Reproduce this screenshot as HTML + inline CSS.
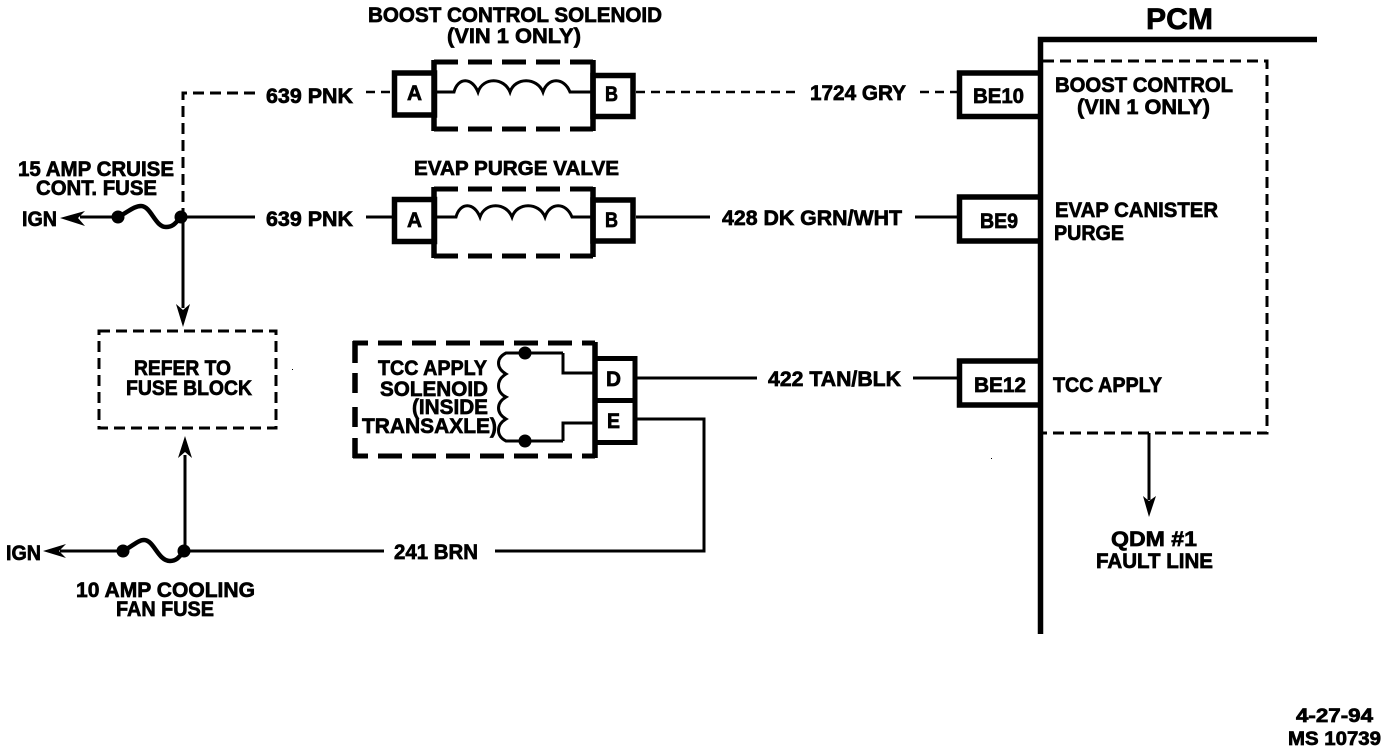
<!DOCTYPE html>
<html><head><meta charset="utf-8"><title>Wiring diagram</title>
<style>
html,body{margin:0;padding:0;background:#fff}
svg{display:block}
text{font-family:"Liberation Sans",sans-serif;font-weight:bold;fill:#000;stroke:#000;stroke-width:.7px;font-size:21.5px}
</style></head><body>
<svg width="1392" height="752" viewBox="0 0 1392 752" xmlns="http://www.w3.org/2000/svg">
<g fill="none" stroke="#000" stroke-linecap="butt">
<!-- PCM -->
<path d="M1040.5 634V39.5H1317" stroke-width="5.5"/>
<path d="M1043 61H1267V433H1043" stroke-width="3" stroke-dasharray="11 6"/>
<!-- PCM connector boxes -->
<path d="M1040 73H959.500V116.500H1040M1040 197H959.500V241H1040M1040 361H959.500V405H1040" stroke-width="5.500"/>
<!-- Dashed wires top -->
<path d="M255 93H183V215" stroke-width="3" stroke-dasharray="11 6"/>
<path d="M366 92H392M636 92H800M920 92H957" stroke-width="2.500" stroke-dasharray="9 6"/>
<!-- Solid wires -->
<path d="M181 217H255M366 217H392M636 217H710M915 217H957M636 378H757M913 378H957" stroke-width="3"/>
<path d="M635 419H704V551H495M384 551H185" stroke-width="3"/>
<path d="M183 217V308M185 551V455M1149 433V500M118 217H80M123 551H60" stroke-width="3"/>
<!-- Fuses -->
<path d="M118 217C128 212 134 206 141 206C151 206 155 227 166 227C174 227 176 222 181 217" stroke-width="4.500"/>
<path d="M123 551C133 546 138 540 144 540C154 540 158 561 170 561C177 561 180 556 184 551" stroke-width="4.500"/>
<!-- Refer box -->
<path d="M99 331H276V428H99Z" stroke-width="3" stroke-dasharray="11 6"/>
<!-- Boost solenoid -->
<path d="M434 60V117M593 60V131" stroke-width="5.500"/>
<path d="M434 62H593M434 129H593" stroke-width="5" stroke-dasharray="24 10"/>
<path d="M434 131V117" stroke-width="5.500"/>
<rect x="394.500" y="73" width="40" height="42" stroke-width="5.500"/>
<rect x="593" y="75.500" width="40" height="41" stroke-width="5.500"/>
<path d="M437 92H454C458 77 472 77 478 92C483 77 504 77 510 92C515 77 537 77 543 92C548 77 564 77 570 92H593" stroke-width="3"/>
<!-- EVAP valve -->
<path d="M434 187V243M593 187V257" stroke-width="5.500"/>
<path d="M434 189H593M434 256H593" stroke-width="5" stroke-dasharray="24 10"/>
<path d="M434 258V243" stroke-width="5.500"/>
<rect x="394.500" y="199.500" width="40" height="42" stroke-width="5.500"/>
<rect x="593" y="200" width="40" height="41" stroke-width="5.500"/>
<path d="M437 217H456C460 202 474 202 480 217C485 202 506 202 512 217C517 202 539 202 545 217C550 202 566 202 572 217H593" stroke-width="3"/>
<!-- TCC solenoid -->
<path d="M353 343H595M353 456H595" stroke-width="5" stroke-dasharray="24 10" stroke-dashoffset="9"/>
<path d="M355 341V363M355 373V393M355 407V427M355 438V458" stroke-width="5.500"/>
<path d="M595 342V458" stroke-width="5.500"/>
<rect x="595" y="358.500" width="40" height="42" stroke-width="5"/>
<rect x="595" y="400.500" width="40" height="42" stroke-width="5"/>
<path d="M563 353V373H595M563 441V423H595M563 353H506C496 358 496 368 506 374C496 380 496 392 506 397C496 403 496 413 506 419C496 425 496 436 506 441H563" stroke-width="3"/>
</g>
<g fill="#000" stroke="none">
<circle cx="118" cy="217" r="6.500"/><circle cx="181" cy="217" r="6.500"/>
<circle cx="123" cy="551" r="6.500"/><circle cx="184" cy="551" r="6.500"/>
<circle cx="525" cy="353" r="6.500"/><circle cx="525" cy="441" r="6.500"/>
<path d="M60 218L85 211L78 218L85 226Z"/>
<path d="M43 551L66 544L59 551L66 558Z"/>
<path d="M183 327L176 304L183 310L190 304Z"/>
<path d="M185 436L178 458L185 452L192 458Z"/>
<path d="M1149 517L1143 496L1149 501L1156 496Z"/>
<rect x="292" y="369" width="1" height="1"/>
<rect x="991" y="458" width="1" height="1"/>
</g>
<!-- Text -->
<text x="1146" y="29" textLength="67" lengthAdjust="spacingAndGlyphs" style="font-size:30px">PCM</text>
<text x="368" y="22" textLength="294" lengthAdjust="spacingAndGlyphs">BOOST CONTROL SOLENOID</text>
<text x="447" y="43" textLength="134" lengthAdjust="spacingAndGlyphs">(VIN 1 ONLY)</text>
<text x="414" y="175" textLength="205" lengthAdjust="spacingAndGlyphs" style="font-size:20px">EVAP PURGE VALVE</text>
<text x="266" y="103" textLength="87" lengthAdjust="spacingAndGlyphs">639 PNK</text>
<text x="266" y="226" textLength="87" lengthAdjust="spacingAndGlyphs">639 PNK</text>
<text x="810" y="100" textLength="96" lengthAdjust="spacingAndGlyphs">1724 GRY</text>
<text x="722" y="225" textLength="180" lengthAdjust="spacingAndGlyphs">428 DK GRN/WHT</text>
<text x="768" y="386" textLength="133" lengthAdjust="spacingAndGlyphs">422 TAN/BLK</text>
<text x="394" y="559" textLength="84" lengthAdjust="spacingAndGlyphs">241 BRN</text>
<text x="18" y="176" textLength="156" lengthAdjust="spacingAndGlyphs">15 AMP CRUISE</text>
<text x="36" y="195" textLength="121" lengthAdjust="spacingAndGlyphs">CONT. FUSE</text>
<text x="22" y="226" textLength="35" lengthAdjust="spacingAndGlyphs">IGN</text>
<text x="6" y="560" textLength="35" lengthAdjust="spacingAndGlyphs">IGN</text>
<text x="134" y="375" textLength="97" lengthAdjust="spacingAndGlyphs">REFER TO</text>
<text x="126" y="395" textLength="126" lengthAdjust="spacingAndGlyphs">FUSE BLOCK</text>
<text x="76" y="597" textLength="179" lengthAdjust="spacingAndGlyphs">10 AMP COOLING</text>
<text x="116" y="616" textLength="98" lengthAdjust="spacingAndGlyphs">FAN FUSE</text>
<text x="407" y="100" textLength="15" lengthAdjust="spacingAndGlyphs">A</text>
<text x="605" y="101" textLength="13" lengthAdjust="spacingAndGlyphs">B</text>
<text x="407" y="227" textLength="15" lengthAdjust="spacingAndGlyphs">A</text>
<text x="605" y="227" textLength="13" lengthAdjust="spacingAndGlyphs">B</text>
<text x="606" y="386" textLength="15" lengthAdjust="spacingAndGlyphs">D</text>
<text x="607" y="428" textLength="13" lengthAdjust="spacingAndGlyphs">E</text>
<text x="378" y="375" textLength="109" lengthAdjust="spacingAndGlyphs">TCC APPLY</text>
<text x="380" y="396" textLength="108" lengthAdjust="spacingAndGlyphs">SOLENOID</text>
<text x="412" y="414" textLength="76" lengthAdjust="spacingAndGlyphs">(INSIDE</text>
<text x="362" y="433" textLength="135" lengthAdjust="spacingAndGlyphs">TRANSAXLE)</text>
<text x="973" y="103" textLength="51" lengthAdjust="spacingAndGlyphs">BE10</text>
<text x="980" y="228" textLength="38" lengthAdjust="spacingAndGlyphs">BE9</text>
<text x="974" y="392" textLength="52" lengthAdjust="spacingAndGlyphs">BE12</text>
<text x="1055" y="92" textLength="178" lengthAdjust="spacingAndGlyphs">BOOST CONTROL</text>
<text x="1077" y="114" textLength="133" lengthAdjust="spacingAndGlyphs">(VIN 1 ONLY)</text>
<text x="1055" y="217" textLength="163" lengthAdjust="spacingAndGlyphs">EVAP CANISTER</text>
<text x="1054" y="240" textLength="70" lengthAdjust="spacingAndGlyphs">PURGE</text>
<text x="1053" y="392" textLength="109" lengthAdjust="spacingAndGlyphs">TCC APPLY</text>
<text x="1111" y="546" textLength="86" lengthAdjust="spacingAndGlyphs">QDM #1</text>
<text x="1096" y="568" textLength="117" lengthAdjust="spacingAndGlyphs">FAULT LINE</text>
<text x="1296" y="722" textLength="77" lengthAdjust="spacingAndGlyphs" style="font-size:19px">4-27-94</text>
<text x="1288" y="745" textLength="93" lengthAdjust="spacingAndGlyphs" style="font-size:19px">MS 10739</text>
</svg>
</body></html>
